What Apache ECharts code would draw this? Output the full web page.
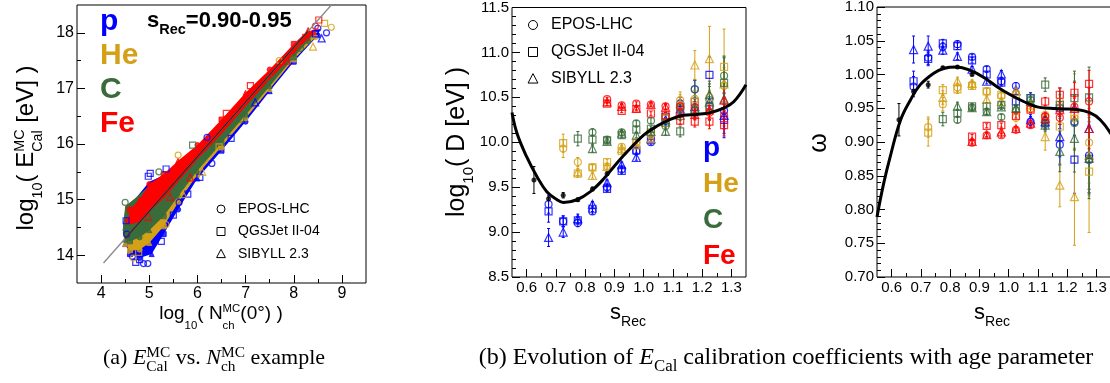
<!DOCTYPE html>
<html>
<head>
<meta charset="utf-8">
<script src="https://cdn.jsdelivr.net/npm/echarts@6.0.0/dist/echarts.min.js"></script>
<style>
html, body {margin: 0; padding: 0; background: #fff;}
#main {width: 1110px; height: 383px;}
</style>
</head>
<body>
<div id="main"></div>
<script>
// ---------- panel (a): E_Cal vs N_ch ----------
const aTickX = [4, 5, 6, 7, 8, 9];
const aMinorX = [4.5, 5.5, 6.5, 7.5, 8.5];
const aTickY = [14, 15, 16, 17, 18];
const aMinorY = [14.5, 15.5, 16.5, 17.5];

// outline of each dense point cloud: upper edge left->right, then lower edge back
const aUpP = [[4.45,14.45],[4.5,14.8],[4.7,15.0],[5.0,15.32],[5.3,15.44],[5.6,15.67],[6.0,15.94],[6.5,16.4],[7.0,16.87],[7.5,17.3],[8.0,17.76],[8.4,18.05],[8.55,18.07]];
const aLoP = [[8.5,17.95],[8.0,17.48],[7.5,16.95],[7.0,16.4],[6.5,15.88],[6.0,15.38],[5.6,14.82],[5.3,14.38],[5.05,14.02],[4.8,13.95],[4.6,14.02],[4.5,14.2]];
const aUpHe = [[4.45,14.4],[4.5,14.82],[4.7,15.0],[5.0,15.24],[5.3,15.42],[5.6,15.66],[6.0,15.94],[6.5,16.4],[7.0,16.88],[7.5,17.3],[8.0,17.76],[8.4,18.04],[8.5,18.02]];
const aLoHe = [[8.45,17.92],[8.0,17.52],[7.5,16.99],[7.0,16.46],[6.5,15.95],[6.0,15.45],[5.6,14.95],[5.3,14.52],[5.0,14.22],[4.8,14.1],[4.6,14.08],[4.5,14.2]];
const aUpC = [[4.45,14.45],[4.5,14.88],[4.7,15.02],[5.0,15.25],[5.3,15.43],[5.6,15.67],[6.0,15.95],[6.5,16.41],[7.0,16.89],[7.5,17.31],[8.0,17.77],[8.3,18.0],[8.4,17.96]];
const aLoC = [[8.3,17.85],[8.0,17.56],[7.5,17.04],[7.0,16.52],[6.5,16.02],[6.0,15.52],[5.6,15.06],[5.3,14.7],[5.0,14.45],[4.8,14.32],[4.6,14.25],[4.5,14.28]];
const aUpFe = [[4.55,14.62],[4.6,14.82],[4.8,15.0],[5.0,15.28],[5.3,15.46],[5.6,15.7],[6.0,15.98],[6.5,16.44],[7.0,16.92],[7.5,17.34],[8.0,17.8],[8.3,18.05],[8.4,18.0]];
const aLoFe = [[8.3,17.9],[8.0,17.62],[7.5,17.16],[7.0,16.68],[6.5,16.18],[6.0,15.72],[5.6,15.32],[5.3,15.02],[5.0,14.78],[4.8,14.6],[4.6,14.55]];

// isolated markers: [x, y, marker] with marker 0 = EPOS, 1 = QGSJet, 2 = SIBYLL
const aOutP = [[4.72,13.87,1],[4.8,13.92,1],[4.88,13.85,0],[4.97,13.85,0],[4.53,14.38,0],[4.52,14.62,1],[4.98,15.42,1],[5.02,15.47,1],[5.5,14.72,1],[5.62,14.95,0],[6.05,15.4,1],[7.2,16.75,2],[8.5,18.08,0],[8.68,18.0,0],[8.58,17.9,2],[8.45,17.98,1],
  [5.8,15.1,1],[6.3,15.65,0],[6.7,16.1,1],[5.25,14.25,1],[4.65,13.98,0],[5.35,15.55,1],[6.2,16.12,0]];
const aOutHe = [[4.67,13.95,0],[4.78,14.05,1],[8.64,18.17,1],[8.78,18.1,0],[8.4,17.75,2],[7.7,17.5,0],[6.45,15.95,1],[5.7,15.1,2],[5.35,14.55,0],[6.1,15.5,2],[5.6,15.8,0]];
const aOutC = [[8.14,17.72,0],[7.5,17.18,0],[4.5,14.95,0],[6.9,16.45,1],[5.2,15.5,0],[5.9,15.98,1]];
const aOutFe = [[8.52,18.23,1],[8.45,18.12,0],[7.85,17.5,2],[4.98,14.69,2],[5.43,15.05,2],[5.85,15.4,2],[8.25,17.92,1],[6.6,16.55,1],[7.1,17.05,1]];

const aFitLine = [[4.05,13.86],[8.78,18.5]];
const aFitCore = [[4.5,14.3],[8.3,18.03]];

// ---------- panels (b) and (c): shared s_Rec axis ----------
const sTicks = [0.6, 0.7, 0.8, 0.9, 1.0, 1.1, 1.2, 1.3];
const sMinor = [0.65, 0.75, 0.85, 0.95, 1.05, 1.15, 1.25];

// ---------- panel (b): log10(D) ----------
const dTickY = [8.5, 9.0, 9.5, 10.0, 10.5, 11.0, 11.5];
const dMinorY = [8.6,8.7,8.8,8.9,9.1,9.2,9.3,9.4,9.6,9.7,9.8,9.9,10.1,10.2,10.3,10.4,10.6,10.7,10.8,10.9,11.1,11.2,11.3,11.4];

// [s, value, error]
const dP_E = [[0.675,9.31,0.10],[0.725,9.12,0.06],[0.775,9.10,0.04],[0.825,9.23,0.03],[0.875,9.50,0.03],[0.925,9.70,0.03],[0.975,9.90,0.03],[1.025,10.00,0.03],[1.075,10.28,0.05],[1.125,10.43,0.07],[1.175,10.59,0.10],[1.225,10.40,0.15],[1.275,10.35,0.20]];
const dP_Q = [[0.675,9.23,0.12],[0.725,9.12,0.06],[0.775,9.13,0.04],[0.825,9.26,0.03],[0.875,9.48,0.03],[0.925,9.68,0.03],[0.975,9.91,0.03],[1.025,10.03,0.03],[1.075,10.28,0.05],[1.125,10.39,0.08],[1.175,10.45,0.10],[1.225,10.75,0.20],[1.275,10.25,0.20]];
const dP_S = [[0.675,8.94,0.10],[0.725,9.00,0.06],[0.775,9.15,0.05],[0.825,9.31,0.03],[0.875,9.55,0.03],[0.925,9.75,0.03],[0.975,9.83,0.03],[1.025,10.04,0.03],[1.075,10.25,0.05],[1.125,10.37,0.08],[1.175,10.40,0.12],[1.225,10.45,0.20],[1.275,10.30,0.20]];
const dHe_E = [[0.725,9.93,0.10],[0.775,9.78,0.05],[0.825,9.72,0.03],[0.875,9.73,0.03],[0.925,9.95,0.03],[0.975,10.00,0.03],[1.025,10.08,0.03],[1.075,10.28,0.04],[1.125,10.47,0.06],[1.175,10.48,0.10],[1.225,10.50,0.15],[1.275,10.63,0.20]];
const dHe_Q = [[0.725,9.99,0.10],[0.775,9.65,0.04],[0.825,9.72,0.03],[0.875,9.78,0.03],[0.925,9.90,0.03],[0.975,9.99,0.03],[1.025,10.11,0.03],[1.075,10.26,0.04],[1.125,10.40,0.07],[1.175,10.45,0.12],[1.225,10.38,0.20],[1.275,10.84,0.42]];
const dHe_S = [[0.775,9.67,0.04],[0.825,9.63,0.03],[0.875,9.73,0.03],[0.925,9.93,0.03],[0.975,9.97,0.03],[1.025,10.04,0.03],[1.075,10.22,0.04],[1.125,10.43,0.13],[1.175,10.86,0.16],[1.225,10.93,0.36],[1.275,10.65,0.30]];
const dC_E = [[0.825,10.11,0.04],[0.875,10.03,0.03],[0.925,10.11,0.03],[0.975,10.21,0.03],[1.025,10.24,0.03],[1.075,10.18,0.04],[1.125,10.38,0.05],[1.175,10.59,0.10],[1.225,10.47,0.15],[1.275,10.74,0.20]];
const dC_Q = [[0.775,10.04,0.08],[0.825,10.03,0.05],[0.875,10.02,0.03],[0.925,10.08,0.03],[0.975,10.14,0.03],[1.025,10.15,0.03],[1.075,10.22,0.04],[1.125,10.12,0.06],[1.175,10.35,0.10],[1.225,10.40,0.15],[1.275,10.66,0.30]];
const dC_S = [[0.825,9.93,0.04],[0.875,10.01,0.03],[0.925,10.10,0.03],[0.975,10.08,0.03],[1.025,10.12,0.03],[1.075,10.12,0.04],[1.125,10.30,0.06],[1.175,10.38,0.10],[1.225,10.53,0.15],[1.275,10.48,0.20]];
const dFe_E = [[0.875,10.48,0.02],[0.925,10.41,0.02],[0.975,10.43,0.02],[1.025,10.42,0.02],[1.075,10.40,0.03],[1.125,10.40,0.04],[1.175,10.39,0.06],[1.225,10.33,0.08],[1.275,10.30,0.12]];
const dFe_Q = [[0.875,10.43,0.02],[0.925,10.35,0.02],[0.975,10.37,0.02],[1.025,10.32,0.02],[1.075,10.30,0.03],[1.125,10.24,0.04],[1.175,10.23,0.06],[1.225,10.23,0.08],[1.275,10.19,0.12]];
const dFe_S = [[0.875,10.45,0.02],[0.925,10.40,0.02],[0.975,10.38,0.02],[1.025,10.42,0.02],[1.075,10.39,0.03],[1.125,10.35,0.04],[1.175,10.31,0.06],[1.225,10.36,0.08],[1.275,10.47,0.12]];
const dData = [[0.625,9.58,0.15],[0.675,9.37,0.02],[0.725,9.41,0.03],[0.775,9.36,0.02],[0.825,9.48,0.02],[0.875,9.65,0.02]];
const dCurve = [[0.55,10.33],[0.567,10.10],[0.60,9.84],[0.635,9.62],[0.669,9.45],[0.704,9.36],[0.726,9.33],[0.772,9.36],[0.818,9.45],[0.863,9.59],[0.909,9.77],[0.954,9.93],[1.0,10.08],[1.046,10.18],[1.091,10.255],[1.137,10.30],[1.183,10.31],[1.228,10.33],[1.273,10.38],[1.308,10.45],[1.35,10.64]];

// ---------- panel (c): omega ----------
const wTickY = [0.70, 0.75, 0.80, 0.85, 0.90, 0.95, 1.00, 1.05, 1.10];
const wMinorY = [0.71,0.72,0.73,0.74,0.76,0.77,0.78,0.79,0.81,0.82,0.83,0.84,0.86,0.87,0.88,0.89,0.91,0.92,0.93,0.94,0.96,0.97,0.98,0.99,1.01,1.02,1.03,1.04,1.06,1.07,1.08,1.09];

const wP_E = [[0.675,0.982,0.015],[0.725,1.025,0.010],[0.775,1.041,0.006],[0.825,1.045,0.005],[0.875,1.026,0.004],[0.925,1.008,0.004],[0.975,0.990,0.005],[1.025,0.983,0.005],[1.075,0.930,0.008],[1.125,0.932,0.010],[1.175,0.896,0.030],[1.225,0.930,0.040],[1.275,0.880,0.050]];
const wP_Q = [[0.675,0.990,0.015],[0.725,1.023,0.010],[0.775,1.046,0.006],[0.825,1.042,0.005],[0.875,1.021,0.004],[0.925,1.000,0.004],[0.975,0.988,0.005],[1.025,0.960,0.006],[1.075,0.965,0.008],[1.125,0.928,0.010],[1.175,0.950,0.030],[1.225,0.874,0.050],[1.275,0.875,0.050]];
const wP_S = [[0.675,1.037,0.020],[0.725,1.042,0.015],[0.775,1.036,0.006],[0.825,1.027,0.005],[0.875,1.008,0.004],[0.925,0.990,0.004],[0.975,1.001,0.005],[1.025,0.976,0.005],[1.075,0.933,0.008],[1.125,0.930,0.010],[1.175,0.908,0.030],[1.225,0.950,0.040],[1.275,0.920,0.050]];
const wHe_E = [[0.725,0.922,0.015],[0.775,0.956,0.010],[0.825,0.981,0.006],[0.875,0.985,0.005],[0.925,0.975,0.005],[0.975,0.968,0.005],[1.025,0.936,0.006],[1.075,0.950,0.006],[1.125,0.940,0.010],[1.175,0.960,0.020],[1.225,0.935,0.066],[1.275,0.899,0.060]];
const wHe_Q = [[0.725,0.914,0.020],[0.775,0.977,0.008],[0.825,0.978,0.006],[0.875,0.983,0.005],[0.925,0.975,0.005],[0.975,0.970,0.005],[1.025,0.970,0.006],[1.075,0.950,0.006],[1.125,0.935,0.010],[1.175,0.923,0.020],[1.225,0.940,0.050],[1.275,0.856,0.090]];
const wHe_S = [[0.775,0.966,0.010],[0.825,0.990,0.006],[0.875,0.987,0.005],[0.925,0.963,0.005],[0.975,0.960,0.005],[1.025,0.975,0.006],[1.075,0.955,0.006],[1.125,0.908,0.020],[1.175,0.836,0.032],[1.225,0.819,0.072],[1.275,0.880,0.060]];
const wC_E = [[0.825,0.933,0.005],[0.875,0.951,0.004],[0.925,0.945,0.004],[0.975,0.937,0.004],[1.025,0.947,0.005],[1.075,0.962,0.006],[1.125,0.928,0.010],[1.175,0.950,0.020],[1.225,0.928,0.040],[1.275,0.873,0.050]];
const wC_Q = [[0.775,0.934,0.010],[0.825,0.9425,0.006],[0.875,0.953,0.004],[0.925,0.953,0.004],[0.975,0.955,0.004],[1.025,0.950,0.005],[1.075,0.965,0.006],[1.125,0.985,0.010],[1.175,0.955,0.020],[1.225,0.965,0.040],[1.275,0.966,0.045]];
const wC_S = [[0.825,0.953,0.006],[0.875,0.951,0.004],[0.925,0.945,0.004],[0.975,0.952,0.004],[1.025,0.950,0.005],[1.075,0.960,0.006],[1.125,0.925,0.010],[1.175,0.886,0.030],[1.225,0.9055,0.050],[1.275,0.876,0.060]];
const wFe_E = [[0.875,0.899,0.003],[0.925,0.910,0.003],[0.975,0.910,0.003],[1.025,0.918,0.003],[1.075,0.925,0.004],[1.125,0.938,0.006],[1.175,0.936,0.010],[1.225,0.952,0.015],[1.275,0.960,0.020]];
const wFe_Q = [[0.875,0.908,0.003],[0.925,0.924,0.003],[0.975,0.925,0.003],[1.025,0.9385,0.003],[1.075,0.948,0.004],[1.125,0.960,0.006],[1.175,0.970,0.010],[1.225,0.973,0.015],[1.275,0.986,0.020]];
const wFe_S = [[0.875,0.901,0.003],[0.925,0.911,0.003],[0.975,0.915,0.003],[1.025,0.920,0.003],[1.075,0.928,0.004],[1.125,0.935,0.006],[1.175,0.948,0.010],[1.225,0.950,0.015],[1.275,0.920,0.030]];
const wData = [[0.625,0.933,0.024],[0.675,0.975,0.003],[0.725,0.985,0.005],[0.775,1.010,0.002],[0.825,1.011,0.002],[0.875,1.000,0.002]];
const wCurve = [[0.55,0.789],[0.573,0.839],[0.595,0.878],[0.63,0.932],[0.664,0.962],[0.698,0.985],[0.744,1.002],[0.778,1.009],[0.824,1.011],[0.869,1.006],[0.914,0.996],[0.96,0.982],[1.006,0.970],[1.051,0.960],[1.097,0.952],[1.142,0.950],[1.188,0.949],[1.234,0.948],[1.279,0.943],[1.313,0.933],[1.35,0.912]];

// ---------- styling ----------
const FONT = '"Liberation Sans", Arial, sans-serif';
const SERIF = '"Liberation Serif", "Times New Roman", serif';
const COL = ['#0000ff', '#d4a017', '#3a6b3a', '#ff0000', '#000000'];
const SYM = ['circle', 'rect', 'triangle'];

const chart = echarts.init(document.getElementById('main'));

function axisPair(pos, grid, min, max, major, minor, fmt, fontSize, margin) {
  const base = {
    type: 'value', gridIndex: grid, position: pos, min, max,
    axisLine: {show: false}, splitLine: {show: false}, minorTick: {show: false}
  };
  return [
    {...base,
      axisTick: {show: true, inside: true, length: 8, customValues: major, lineStyle: {color: '#000', width: 1}},
      axisLabel: {customValues: major, formatter: fmt, color: '#000', fontSize, fontFamily: FONT, margin}},
    {...base,
      axisTick: {show: true, inside: true, length: 4, customValues: minor, lineStyle: {color: '#000', width: 1}},
      axisLabel: {show: false}}
  ];
}

const xAxes = [
  ...axisPair('bottom', 0, 3.5, 9.5, aTickX, aMinorX, v => String(v), 16, 3),
  ...axisPair('bottom', 1, 0.55, 1.35, sTicks, sMinor, v => v.toFixed(1), 15, 3),
  ...axisPair('bottom', 2, 0.55, 1.35, sTicks, sMinor, v => v.toFixed(1), 15, 3)
];
const yAxes = [
  ...axisPair('left', 0, 13.5, 18.5, aTickY, aMinorY, v => String(v), 16, 3),
  ...axisPair('left', 1, 8.5, 11.5, dTickY, dMinorY, v => v.toFixed(1), 15, 3),
  ...axisPair('left', 2, 0.70, 1.10, wTickY, wMinorY, v => v.toFixed(2), 15, 3)
];

function polygon(up, lo, color) {
  const pts = up.concat(lo);
  return {
    type: 'custom', xAxisIndex: 0, yAxisIndex: 0, data: pts, z: 2, silent: true,
    encode: {x: 0, y: 1},
    renderItem(params, api) {
      if (params.dataIndex !== 0) return null;
      return {type: 'polygon', shape: {points: pts.map(p => api.coord(p))}, style: {fill: color}};
    }
  };
}

// markers sitting on a cloud's outline give it the ragged, dotted edge
function edgeMarks(pts, color) {
  return {
    type: 'scatter', xAxisIndex: 0, yAxisIndex: 0, data: pts, z: 2, silent: true,
    symbol: (v, p) => SYM[p.dataIndex % 3], symbolSize: 5,
    itemStyle: {color: color, borderColor: color, borderWidth: 1}
  };
}

function outliers(pts, color) {
  return {
    type: 'scatter', xAxisIndex: 0, yAxisIndex: 0, data: pts, z: 3, silent: true,
    symbol: v => SYM[v[2]], symbolSize: v => (v[2] === 2 ? 7 : 6),
    itemStyle: {color: 'rgba(255,255,255,0)', borderColor: color, borderWidth: 1.2}
  };
}

function errBars(groups, ax) {
  const data = [];
  groups.forEach(([arr, c]) => arr.forEach(d => data.push([d[0], d[1], d[2], c])));
  return {
    type: 'custom', xAxisIndex: ax, yAxisIndex: ax, data, z: 3, silent: true,
    encode: {x: 0, y: 1},
    renderItem(params, api) {
      const x = api.value(0), y = api.value(1), e = api.value(2);
      const col = COL[api.value(3)];
      const hi = api.coord([x, y + e]), lo = api.coord([x, y - e]);
      const st = {stroke: col, lineWidth: 1};
      return {type: 'group', children: [
        {type: 'line', shape: {x1: hi[0], y1: hi[1], x2: lo[0], y2: lo[1]}, style: st},
        {type: 'line', shape: {x1: hi[0] - 1.5, y1: hi[1], x2: hi[0] + 1.5, y2: hi[1]}, style: st},
        {type: 'line', shape: {x1: lo[0] - 1.5, y1: lo[1], x2: lo[0] + 1.5, y2: lo[1]}, style: st}
      ]};
    }
  };
}

function markers(arr, c, m, ax) {
  return {
    type: 'scatter', xAxisIndex: ax, yAxisIndex: ax, data: arr.map(d => [d[0], d[1]]), z: 4, silent: true,
    symbol: SYM[m], symbolSize: m === 2 ? 8 : 7,
    itemStyle: {color: 'rgba(255,255,255,0)', borderColor: COL[c], borderWidth: 1.2}
  };
}

function dataPoints(arr, ax) {
  return {
    type: 'scatter', xAxisIndex: ax, yAxisIndex: ax, data: arr.map(d => [d[0], d[1]]), z: 5, silent: true,
    symbol: 'circle', symbolSize: 5, itemStyle: {color: '#000'}
  };
}

function curve(arr, ax) {
  return {
    type: 'line', xAxisIndex: ax, yAxisIndex: ax, data: arr, z: 6, silent: true, smooth: 0.4,
    showSymbol: false, lineStyle: {color: '#000', width: 3}
  };
}

const dGroups = [[dP_E, 0, 0], [dP_Q, 0, 1], [dP_S, 0, 2], [dHe_E, 1, 0], [dHe_Q, 1, 1], [dHe_S, 1, 2],
  [dC_E, 2, 0], [dC_Q, 2, 1], [dC_S, 2, 2], [dFe_E, 3, 0], [dFe_Q, 3, 1], [dFe_S, 3, 2]];
const wGroups = [[wP_E, 0, 0], [wP_Q, 0, 1], [wP_S, 0, 2], [wHe_E, 1, 0], [wHe_Q, 1, 1], [wHe_S, 1, 2],
  [wC_E, 2, 0], [wC_Q, 2, 1], [wC_S, 2, 2], [wFe_E, 3, 0], [wFe_Q, 3, 1], [wFe_S, 3, 2]];

const series = [
  polygon(aUpP, aLoP, COL[0]), edgeMarks(aLoP, COL[0]),
  polygon(aUpHe, aLoHe, COL[1]), edgeMarks(aLoHe, COL[1]),
  polygon(aUpC, aLoC, COL[2]), edgeMarks(aLoC, COL[2]),
  polygon(aUpFe, aLoFe, COL[3]), edgeMarks(aUpFe, COL[3]),
  outliers(aOutP, COL[0]), outliers(aOutHe, COL[1]), outliers(aOutC, COL[2]), outliers(aOutFe, COL[3]),
  {type: 'line', xAxisIndex: 0, yAxisIndex: 0, data: aFitLine, z: 5, showSymbol: false, silent: true, lineStyle: {color: '#8a8a8a', width: 1.3}},
  {type: 'line', xAxisIndex: 0, yAxisIndex: 0, data: aFitCore, z: 6, showSymbol: false, silent: true, lineStyle: {color: '#3a1a1a', width: 1.2}},
  errBars([...dGroups.map(g => [g[0], g[1]]), [dData, 4]], 2),
  ...dGroups.map(g => markers(g[0], g[1], g[2], 2)),
  dataPoints(dData, 2), curve(dCurve, 2),
  errBars([...wGroups.map(g => [g[0], g[1]]), [wData, 4]], 4),
  ...wGroups.map(g => markers(g[0], g[1], g[2], 4)),
  dataPoints(wData, 4), curve(wCurve, 4)
];

// ---------- text with sub/superscripts ----------
const mctx = document.createElement('canvas').getContext('2d');
function textW(t, font) { mctx.font = font; return mctx.measureText(t).width; }

function mathText(o) {
  const kids = [];
  let cx = 0, pend = 0;
  o.parts.forEach(p => {
    const small = p.k === 'sub' || p.k === 'sup';
    const sz = small ? o.size * (o.subS || 0.6) : o.size;
    const font = (p.it ? 'italic ' : '') + (o.weight || 'normal') + ' ' + sz + 'px ' + (o.fam || FONT);
    const w = textW(p.t, font);
    const dy = p.k === 'sub' ? o.subDy : (p.k === 'sup' ? -o.supDy : 0);
    kids.push({type: 'text', x: cx, y: dy - 0.34 * sz, silent: true,
      style: {text: p.t, font, fill: o.color || '#000', textAlign: 'left', textVerticalAlign: 'middle', align: 'left', verticalAlign: 'middle'}});
    if (p.st) { pend = Math.max(pend, w); } else { cx += Math.max(w, pend); pend = 0; }
  });
  const shift = o.align === 'left' ? 0 : -cx / 2;
  kids.forEach(k => { k.x += shift; });
  return {type: 'group', x: o.x, y: o.y, rotation: o.rot || 0, children: kids, silent: true};
}

function label(x, y, text, size, color, weight) {
  return mathText({x, y, size, color, weight, align: 'left', parts: [{t: text}]});
}

function legendRow(cx, cy, m, s, text, size) {
  let mark;
  const st = {fill: 'none', stroke: '#000', lineWidth: 1};
  if (m === 0) mark = {type: 'circle', shape: {cx, cy, r: s / 2}, style: st};
  else if (m === 1) mark = {type: 'rect', shape: {x: cx - s / 2, y: cy - s / 2, width: s, height: s}, style: st};
  else mark = {type: 'polygon', shape: {points: [[cx, cy - s * 0.6], [cx - s * 0.55, cy + s * 0.45], [cx + s * 0.55, cy + s * 0.45]]}, style: st};
  return [mark, label(cx + s + 9, cy + 0.34 * size, text, size, '#000')];
}

const MODELS = ['EPOS-LHC', 'QGSJet II-04', 'SIBYLL 2.3'];
const SPECIES = ['p', 'He', 'C', 'Fe'];

const graphics = [
  // panel (a) titles
  mathText({x: 35, y: 148, rot: Math.PI / 2, size: 24, subDy: 8, supDy: 10,
    parts: [{t: 'log'}, {t: '10', k: 'sub'}, {t: '( E'}, {t: 'MC', k: 'sup', st: true}, {t: 'Cal', k: 'sub'}, {t: ' [eV] )'}]}),
  mathText({x: 221, y: 320, size: 19, subDy: 10, supDy: 7,
    parts: [{t: 'log'}, {t: '10', k: 'sub'}, {t: '( N'}, {t: 'MC', k: 'sup', st: true}, {t: 'ch', k: 'sub'}, {t: '(0°) )'}]}),
  mathText({x: 147, y: 28, size: 22, weight: 'bold', subDy: 7, subS: 0.66, align: 'left',
    parts: [{t: 's'}, {t: 'Rec', k: 'sub'}, {t: '=0.90-0.95'}]}),
  ...SPECIES.map((s, i) => label(100, 32 + i * 34, s, 30, COL[i], 'bold')),
  ...MODELS.flatMap((t, i) => legendRow(221, 209 + i * 22.5, i, 8, t, 14)),

  // panel (b) titles
  mathText({x: 466, y: 142, rot: Math.PI / 2, size: 25, subDy: 8, supDy: 10,
    parts: [{t: 'log'}, {t: '10', k: 'sub'}, {t: '( D [eV] )'}]}),
  mathText({x: 628, y: 320, size: 22, subDy: 7, subS: 0.64, parts: [{t: 's'}, {t: 'Rec', k: 'sub'}]}),
  ...SPECIES.map((s, i) => label(703, 158 + i * 36, s, 28, COL[i], 'bold')),
  ...MODELS.flatMap((t, i) => legendRow(533, 25 + i * 27, i, 9, t, 16)),

  // panel (c) titles
  mathText({x: 828, y: 143, rot: Math.PI / 2, size: 25, parts: [{t: 'ω'}]}),
  mathText({x: 992, y: 320, size: 22, subDy: 7, subS: 0.64, parts: [{t: 's'}, {t: 'Rec', k: 'sub'}]}),

  // captions
  mathText({x: 214, y: 366, size: 22, fam: SERIF, subDy: 6, supDy: 8, subS: 0.7,
    parts: [{t: '(a) '}, {t: 'E', it: true}, {t: 'MC', k: 'sup', st: true}, {t: 'Cal', k: 'sub'}, {t: ' vs. '},
      {t: 'N', it: true}, {t: 'MC', k: 'sup', st: true}, {t: 'ch', k: 'sub'}, {t: ' example'}]}),
  mathText({x: 786, y: 366, size: 24, fam: SERIF, subDy: 6, subS: 0.7,
    parts: [{t: '(b) Evolution of '}, {t: 'E', it: true}, {t: 'Cal', k: 'sub'}, {t: ' calibration coefficients with age parameter'}]})
];

chart.setOption({
  animation: false,
  textStyle: {fontFamily: FONT},
  grid: [
    {left: 77, top: 5, width: 289, height: 278, show: true, borderColor: '#000', borderWidth: 1, backgroundColor: 'transparent', outerBoundsMode: 'none'},
    {left: 512, top: 7.5, width: 234, height: 269.5, show: true, borderColor: '#000', borderWidth: 1, backgroundColor: 'transparent', outerBoundsMode: 'none'},
    {left: 877, top: 7, width: 234, height: 270, show: true, borderColor: '#000', borderWidth: 1, backgroundColor: 'transparent', outerBoundsMode: 'none'}
  ],
  xAxis: xAxes,
  yAxis: yAxes,
  series,
  graphic: {elements: graphics}
});
</script>
</body>
</html>
